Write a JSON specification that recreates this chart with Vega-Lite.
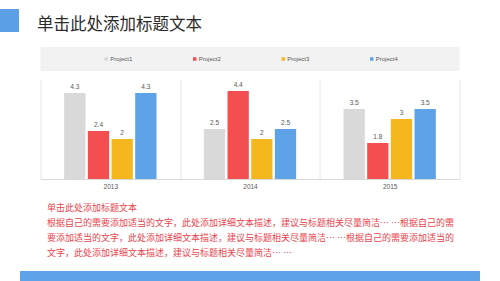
{
  "$schema": "https://vega.github.io/schema/vega-lite/v6.json",
  "padding": {"left": 0, "top": 9, "right": 0, "bottom": 0},
  "background": "white",
  "config": {"view": {"stroke": null}, "font": "Liberation Sans"},
  "datasets": {
    "sales": [
      {"year": "2013", "project": "Project1", "value": 4.3},
      {"year": "2013", "project": "Project2", "value": 2.4},
      {"year": "2013", "project": "Project3", "value": 2},
      {"year": "2013", "project": "Project4", "value": 4.3},
      {"year": "2014", "project": "Project1", "value": 2.5},
      {"year": "2014", "project": "Project2", "value": 4.4},
      {"year": "2014", "project": "Project3", "value": 2},
      {"year": "2014", "project": "Project4", "value": 2.5},
      {"year": "2015", "project": "Project1", "value": 3.5},
      {"year": "2015", "project": "Project2", "value": 1.8},
      {"year": "2015", "project": "Project3", "value": 3},
      {"year": "2015", "project": "Project4", "value": 3.5}
    ],
    "projects": [
      {"project": "Project1"},
      {"project": "Project2"},
      {"project": "Project3"},
      {"project": "Project4"}
    ],
    "none": []
  },
  "spacing": 8,
  "center": true,
  "bounds": "full",
  "vconcat": [
    {
      "spacing": 0,
      "bounds": "flush",
      "hconcat": [
        {
          "data": {"name": "none"},
          "mark": "point",
          "width": 19,
          "height": 23,
          "view": {"fill": "#5b9fe6", "stroke": null},
          "title": {
            "text": "单击此处添加标题文本",
            "orient": "right",
            "angle": 0,
            "align": "left",
            "baseline": "middle",
            "anchor": "middle",
            "offset": 18,
            "dx": -165,
            "dy": 4.5,
            "fontSize": 16.5,
            "font": "Noto Sans CJK SC",
            "fontWeight": "normal",
            "color": "#2b2b2b"
          }
        },
        {
          "data": {"name": "none"},
          "mark": "point",
          "width": 481,
          "height": 30
        }
      ]
    },
    {
      "data": {"name": "projects"},
      "width": 419,
      "height": 24,
      "view": {"fill": "#f2f2f2", "stroke": null},
      "encoding": {
        "x": {"field": "project", "type": "nominal", "scale": {"type": "point", "padding": 0.867}, "axis": null}
      },
      "layer": [
        {
          "mark": {"type": "square", "size": 12, "opacity": 1, "xOffset": -11},
          "encoding": {
            "color": {
              "field": "project", "type": "nominal",
              "scale": {"domain": ["Project1", "Project2", "Project3", "Project4"], "range": ["#d9d9d9", "#f44f50", "#f4b71d", "#5ea2e8"]},
              "legend": null
            }
          }
        },
        {
          "mark": {"type": "text", "align": "left", "baseline": "middle", "dx": -7, "fontSize": 6, "color": "#595959"},
          "encoding": {"text": {"field": "project", "type": "nominal"}}
        }
      ]
    },
    {
      "data": {"name": "sales"},
      "width": 419,
      "height": 100,
      "title": {
        "text": [
          "单击此处添加标题文本",
          "根据自己的需要添加适当的文字，此处添加详细文本描述，建议与标题相关尽量简洁… …根据自己的需",
          "要添加适当的文字，此处添加详细文本描述，建议与标题相关尽量简洁… …根据自己的需要添加适当的",
          "文字，此处添加详细文本描述，建议与标题相关尽量简洁… …"
        ],
        "subtitle": " ",
        "subtitleFontSize": 4,
        "subtitlePadding": 0,
        "orient": "bottom",
        "anchor": "start",
        "dx": 6.5,
        "offset": 14,
        "fontSize": 9,
        "lineHeight": 15.3,
        "font": "Noto Sans CJK SC",
        "fontWeight": "normal",
        "color": "#e8434d"
      },
      "encoding": {
        "x": {
          "field": "year", "type": "nominal",
          "scale": {"paddingInner": 0, "paddingOuter": 0},
          "axis": {"title": null, "labelAngle": 0, "grid": true, "tickBand": "extent", "gridColor": "#e6e6e6", "ticks": false, "domainColor": "#d9d9d9", "labelFontSize": 6.5, "labelColor": "#595959", "labelPadding": 4}
        },
        "xOffset": {"field": "project", "type": "nominal", "scale": {"paddingInner": 0.1, "paddingOuter": 1.5}},
        "y": {"field": "value", "type": "quantitative", "scale": {"domain": [0, 5]}, "axis": null},
        "color": {
          "field": "project", "type": "nominal",
          "scale": {"domain": ["Project1", "Project2", "Project3", "Project4"], "range": ["#d9d9d9", "#f44f50", "#f4b71d", "#5ea2e8"]},
          "legend": null
        }
      },
      "layer": [
        {"mark": {"type": "bar"}},
        {
          "mark": {"type": "text", "baseline": "bottom", "dy": -3, "fontSize": 6.5},
          "encoding": {
            "text": {"field": "value", "type": "quantitative"},
            "color": {"value": "#595959"}
          }
        }
      ]
    },
    {
      "data": {"name": "none"},
      "mark": "point",
      "width": 460,
      "height": 11,
      "view": {"fill": "#5ea2e8", "stroke": null}
    }
  ]
}
